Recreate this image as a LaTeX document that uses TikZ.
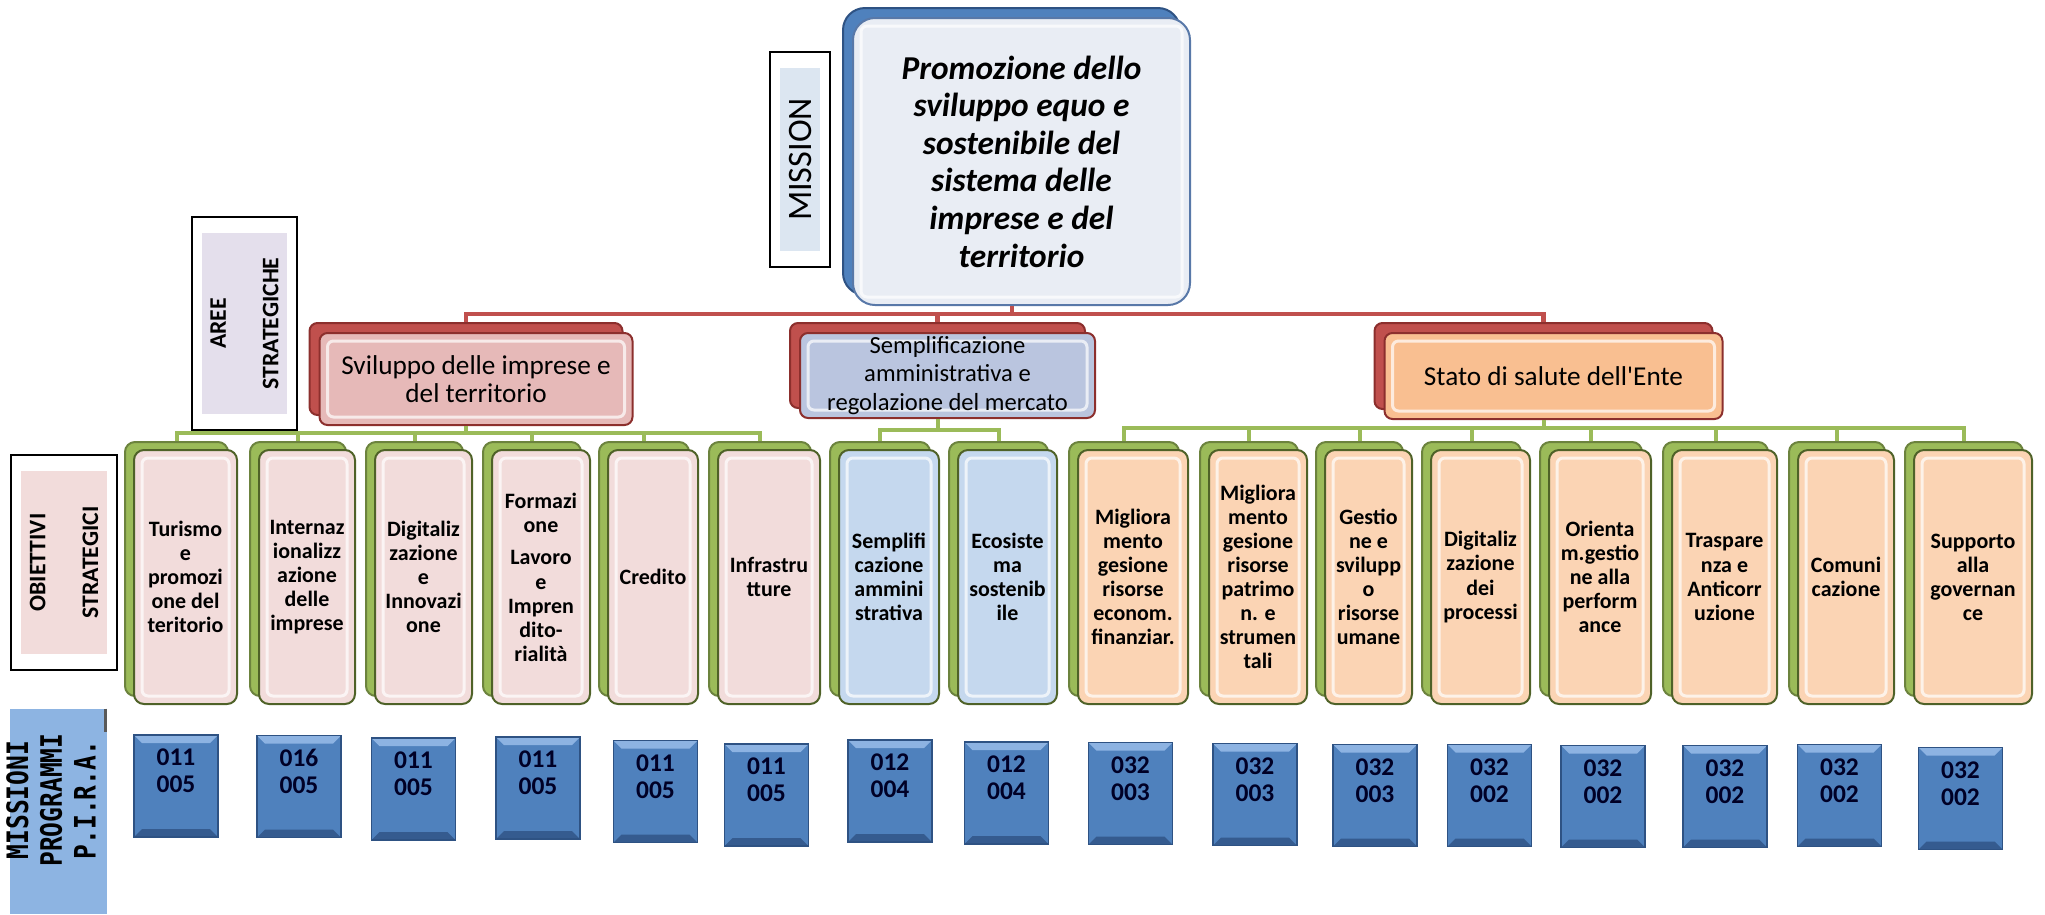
\documentclass[tikz,border=0pt]{standalone}
\usepackage{fontspec}
\setmainfont{Carlito}
\newfontfamily\monobold{DejaVu Sans Mono}
\usepackage{tikz}
\usetikzlibrary{shadows}

\newlength\pxl
\setlength\pxl{0.02cm}

\definecolor{rosa}{HTML}{F2DCDB}
\definecolor{celeste}{HTML}{C5D8EE}
\definecolor{pesca}{HTML}{FBD4B4}
\definecolor{verde}{HTML}{9BBB59}
\definecolor{verdebordo}{HTML}{4F6228}
\definecolor{rosso}{HTML}{C0504D}
\definecolor{rossobordo}{HTML}{8C2F2D}
\definecolor{blu}{HTML}{4F81BD}
\definecolor{bluscuro}{HTML}{2E5283}
\definecolor{bluchiaro}{HTML}{8DB3E2}
\definecolor{grigiomis}{HTML}{E9EDF4}
\definecolor{bordomis}{HTML}{5878A8}
\definecolor{area1}{HTML}{E6B9B8}
\definecolor{area2}{HTML}{BAC5DF}
\definecolor{area3}{HTML}{F9BF91}
\definecolor{celestino}{HTML}{DCE6F1}
\definecolor{lilla}{HTML}{E4DFEC}
\definecolor{azzurro}{HTML}{8DB4E2}

\tikzset{
  labelbox/.style={draw=black, line width=2.5\pxl, path picture={
    \fill[#1] ([shift={(10\pxl,-16\pxl)}]path picture bounding box.north west)
      rectangle ([shift={(-10\pxl,16\pxl)}]path picture bounding box.south east);}},
  bevel/.style={path picture={
    \draw[white, opacity=.7, line width=3\pxl, rounded corners=6\pxl]
      ([shift={(8\pxl,-8\pxl)}]path picture bounding box.north west)
      rectangle ([shift={(-8\pxl,8\pxl)}]path picture bounding box.south east);}},
  codebevel/.style={path picture={
    \fill[bluchiaro] (path picture bounding box.north west) -- (path picture bounding box.north east)
      -- ([shift={(-8\pxl,-8\pxl)}]path picture bounding box.north east)
      -- ([shift={(8\pxl,-8\pxl)}]path picture bounding box.north west) -- cycle;
    \fill[bluscuro!80!blu] (path picture bounding box.south west) -- (path picture bounding box.south east)
      -- ([shift={(-8\pxl,8\pxl)}]path picture bounding box.south east)
      -- ([shift={(8\pxl,8\pxl)}]path picture bounding box.south west) -- cycle;}}
}

\begin{document}
\begin{tikzpicture}[x=0.02cm, y=-0.02cm]
\tikzstyle{every node}=[font=\fontsize{12.5}{13.7}\selectfont]
\tikzstyle{missione}=[draw=bordomis, line width=2\pxl, fill=grigiomis, rounded corners=22\pxl, minimum width=337\pxl, minimum height=287\pxl, inner sep=0pt, align=center, font=\fontsize{19}{21.4}\selectfont\bfseries\itshape, copy shadow={shadow xshift=-10\pxl, shadow yshift=10\pxl, fill=blu, draw=bluscuro}, bevel]
\tikzstyle{area}=[draw=rossobordo, line width=2\pxl, rounded corners=8\pxl, inner sep=0pt, align=center, font=\fontsize{15.5}{16.2}\selectfont, copy shadow={shadow xshift=-10\pxl, shadow yshift=10\pxl, fill=rosso, draw=rossobordo}, bevel]
\tikzstyle{obiettivo}=[draw=verdebordo, line width=2\pxl, rounded corners=10\pxl, minimum height=254\pxl, inner sep=0pt, align=center, font=\fontsize{12.5}{13.7}\selectfont\bfseries, copy shadow={shadow xshift=-9\pxl, shadow yshift=8\pxl, fill=verde, draw=verde!70!black}, bevel]
\tikzstyle{codice}=[draw=bluscuro, line width=1.5\pxl, fill=blu, minimum width=84\pxl, minimum height=102\pxl, inner sep=0pt, align=center, text depth=17pt, text=black!85!blue, font=\fontsize{14.5}{15.4}\selectfont\bfseries, codebevel]
\tikzstyle{etichetta}=[rotate=90, align=center, font=\fontsize{13.5}{30}\selectfont\bfseries]
\tikzstyle{rline}=[draw=rosso, line width=4.5\pxl]
\tikzstyle{gline}=[draw=verde, line width=4\pxl]

\useasboundingbox (0,0) rectangle (2045,914);

% mission
\node (mis) [missione] at (1021.5,161.5) {Promozione dello\\sviluppo equo e\\sostenibile del\\sistema delle\\imprese e del\\territorio};

% aree strategiche
\node (a1) [area, fill=area1, minimum width=313\pxl, minimum height=92\pxl] at (476,379) {Sviluppo delle imprese e\\del territorio};
\node (a2) [area, fill=area2, minimum width=295\pxl, minimum height=85\pxl, font=\fontsize{14}{16.2}\selectfont] at (947.5,375.5) {Semplificazione\\amministrativa e\\regolazione del mercato};
\node (a3) [area, fill=area3, minimum width=338\pxl, minimum height=86\pxl] at (1553.5,376) {Stato di salute dell\textquotesingle Ente};

% obiettivi strategici
\foreach \n/\cx/\w/\col/\testo in {
  1/185.5/103/rosa/{Turismo\\e\\promozi\\one del\\teritorio},
  2/307/96/rosa/{Internaz\\ionalizz\\azione\\delle\\imprese},
  3/423.5/97/rosa/{Digitaliz\\zazione\\e\\Innovazi\\one},
  4/541/98/rosa/{Formazi\\one\\[5pt]Lavoro\\e\\Impren\\dito-\\rialità},
  5/653/90/rosa/{Credito},
  6/769/102/rosa/{Infrastru\\tture},
  7/889/100/celeste/{Semplifi\\cazione\\ammini\\strativa},
  8/1007.5/99/celeste/{Ecosiste\\ma\\sostenib\\ile},
  9/1133/110/pesca/{Migliora\\mento\\gesione\\risorse\\econom.\\finanziar.},
  10/1258/98/pesca/{Migliora\\mento\\gesione\\risorse\\patrimo\\n. e\\strumen\\tali},
  11/1368.5/87/pesca/{Gestio\\ne e\\svilupp\\o\\risorse\\umane},
  12/1480.5/99/pesca/{Digitaliz\\zazione\\dei\\processi},
  13/1600/102/pesca/{Orienta\\m.gestio\\ne alla\\perform\\ance},
  14/1724.5/105/pesca/{Traspare\\nza e\\Anticorr\\uzione},
  15/1846/96/pesca/{Comuni\\cazione},
  16/1973/118/pesca/{Supporto\\alla\\governan\\ce}}{
  \node (o\n) [obiettivo, fill=\col, minimum width=\w\pxl] at (\cx,577) {\testo};
  \coordinate (t\n) at ([xshift=-9\pxl,yshift=8\pxl]o\n.north);
}

% missioni e programmi
\foreach \n/\cx/\cy/\testo in {
  1/176/786/{011\\005}, 2/299/786.5/{016\\005}, 3/413.5/789/{011\\005},
  4/538/788/{011\\005}, 5/655.5/791.5/{011\\005}, 6/766.5/795/{011\\005},
  7/890/791/{012\\004}, 8/1006.5/793/{012\\004}, 9/1130.5/793.5/{032\\003},
  10/1255/794.5/{032\\003}, 11/1375/795.5/{032\\003}, 12/1489.5/795.5/{032\\002},
  13/1603/796.5/{032\\002}, 14/1725/796.5/{032\\002}, 15/1839.5/795.5/{032\\002},
  16/1960.5/798.5/{032\\002}}
  \node (c\n) [codice] at (\cx,\cy) {\testo};

% red tree
\coordinate (rb) at (1012,314);
\coordinate (r1) at ([xshift=-10\pxl,yshift=10\pxl]a1.north);
\coordinate (r2) at ([xshift=-10\pxl,yshift=10\pxl]a2.north);
\coordinate (r3) at ([xshift=-10\pxl,yshift=10\pxl]a3.north);
\draw[rline] (rb |- mis.south) -- (rb);
\draw[rline] (r1) |- (rb) -| (r3);
\draw[rline] (rb -| r2) -- (r2);

% green tree
\coordinate (g1) at (465.5,433);
\coordinate (g2) at (937.5,430);
\coordinate (g3) at (1543.5,428);
\draw[gline] (g1 |- a1.south) -- (g1);
\draw[gline] (t1) |- (g1) -| (t6);
\foreach \n in {2,...,5} \draw[gline] (g1 -| t\n) -- (t\n);
\draw[gline] (g2 |- a2.south) -- (g2);
\draw[gline] (t7) |- (g2) -| (t8);
\draw[gline] (g3 |- a3.south) -- (g3);
\draw[gline] (t9) |- (g3) -| (t16);
\foreach \n in {10,...,15} \draw[gline] (g3 -| t\n) -- (t\n);

% left labels
\node (lmis) [labelbox=celestino, minimum width=60\pxl, minimum height=215\pxl] at (800,159.5) {};
\node (tmis) [rotate=90, font=\fontsize{19.5}{22}\selectfont] at (lmis) {MISSION};
\node (lare) [labelbox=lilla, minimum width=105\pxl, minimum height=213\pxl] at (244.5,323.5) {};
\node (tare) [etichetta] at (lare) {AREE\\STRATEGICHE};
\node (lobi) [labelbox=rosa, minimum width=106\pxl, minimum height=215\pxl] at (64,562.5) {};
\node (tobi) [etichetta] at (lobi) {OBIETTIVI\\STRATEGICI};
\node (lpir) [fill=azzurro, minimum width=97\pxl, minimum height=205\pxl, inner sep=0pt] at (58.5,811.5) {};
\node (tpir) [rotate=90, yscale=1.2, align=center, font=\monobold\fontsize{14}{16}\selectfont\bfseries] at (51,800) {MISSIONI\\PROGRAMMI\\P.I.R.A.};
\draw[line width=3\pxl, black!65] ([xshift=-1.5\pxl]lpir.north east) -- ([xshift=-1.5\pxl,yshift=-23\pxl]lpir.north east);
\end{tikzpicture}
\end{document}
